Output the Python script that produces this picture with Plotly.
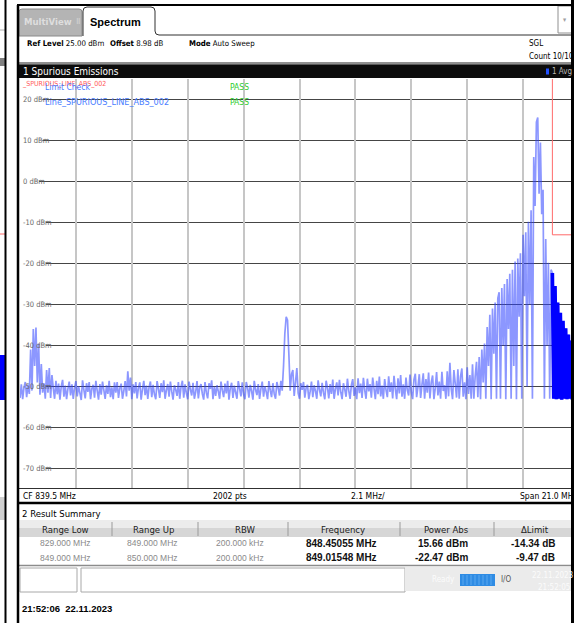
import numpy as np
import plotly.graph_objects as go

# sweep settings shown on the analyzer
center_mhz = 839.5
span_mhz = 21.0
ref_level = 25.0
db_per_div = 10.0

# trace 1 (Avg) in dBm: one list per MHz, 0.05 MHz per point
lvl_829 = [-52.8, -49.5, -53.1, -50.2, -48.9, -52.6, -49.6, -51.8, -41.0, -51.0, -36.0, -45.0, -35.6, -49.0, -39.5, -52.0, -44.5, -51.5, -49.2, -53.0]
lvl_830 = [-46.0, -51.5, -45.5, -52.8, -47.2, -50.4, -53.0, -48.6, -51.9, -49.3, -53.2, -50.0, -48.4, -52.5, -49.8, -53.1, -50.6, -48.8, -52.2, -49.5]
lvl_831 = [-53.0, -50.3, -48.7, -52.4, -49.9, -51.6, -53.3, -48.5, -50.8, -52.9, -49.2, -51.3, -48.9, -53.1, -50.5, -49.6, -52.7, -48.6, -51.0, -53.2]
lvl_832 = [-49.4, -52.0, -48.8, -50.9, -53.0, -49.7, -51.8, -48.6, -52.6, -50.2, -53.1, -49.0, -51.5, -48.9, -52.8, -50.4, -49.3, -53.0, -51.1, -48.7]
lvl_833 = [-52.4, -46.3, -51.0, -47.8, -53.1, -49.5, -51.7, -48.9, -52.9, -50.3, -49.0, -53.2, -50.7, -48.6, -52.1, -49.8, -53.0, -50.1, -48.8, -52.6]
lvl_834 = [-49.6, -51.9, -53.1, -48.7, -50.6, -52.8, -49.2, -51.4, -48.5, -53.0, -50.9, -49.4, -52.5, -48.8, -51.2, -53.2, -49.7, -50.8, -52.3, -48.9]
lvl_835 = [-53.0, -50.1, -48.6, -52.7, -49.5, -51.6, -53.1, -48.8, -50.7, -52.2, -49.1, -53.0, -51.3, -48.7, -52.9, -50.2, -49.4, -51.8, -53.2, -48.9]
lvl_836 = [-51.5, -52.9, -49.2, -50.6, -48.5, -53.1, -50.0, -52.3, -49.7, -51.2, -53.0, -48.8, -50.9, -52.6, -49.3, -51.7, -48.6, -53.2, -50.4, -49.1]
lvl_837 = [-52.8, -49.8, -51.4, -53.0, -48.7, -50.5, -52.4, -49.0, -51.9, -53.1, -48.9, -50.3, -52.7, -49.6, -51.1, -53.2, -48.6, -50.8, -52.1, -49.4]
lvl_838 = [-53.0, -50.6, -48.8, -52.5, -49.9, -51.3, -53.1, -48.7, -50.9, -52.6, -49.2, -51.8, -53.0, -48.9, -50.4, -52.2, -48.6, -51.0, -45.0, -37.0]
lvl_839 = [-33.0, -33.8, -42.0, -51.0, -47.0, -46.0, -52.3, -49.0, -45.5, -51.6, -53.0, -49.2, -50.8, -48.9, -52.7, -50.3, -49.6, -53.1, -51.2, -48.8]
lvl_840 = [-52.6, -49.7, -51.1, -53.0, -48.5, -50.8, -52.4, -49.1, -51.5, -53.1, -48.6, -50.3, -52.9, -49.4, -51.8, -48.3, -53.0, -50.6, -49.0, -52.2]
lvl_841 = [-48.4, -51.4, -53.1, -49.2, -50.7, -52.5, -48.1, -51.0, -53.0, -49.6, -48.2, -52.3, -50.2, -53.1, -48.0, -51.6, -49.3, -52.8, -47.9, -50.9]
lvl_842 = [-53.0, -48.1, -51.2, -49.4, -52.7, -47.8, -50.5, -53.1, -48.6, -51.9, -47.6, -52.4, -49.8, -53.0, -48.2, -50.8, -52.6, -47.5, -51.3, -49.0]
lvl_843 = [-52.9, -47.4, -50.6, -53.1, -48.0, -51.7, -47.2, -52.5, -49.5, -53.0, -47.8, -50.9, -52.2, -47.1, -51.4, -53.1, -48.3, -46.9, -52.6, -50.1]
lvl_844 = [-47.0, -52.8, -49.6, -46.8, -53.0, -48.2, -51.5, -46.6, -52.9, -49.0, -47.3, -53.1, -50.4, -46.5, -52.2, -48.8, -53.0, -46.4, -51.1, -49.7]
lvl_845 = [-53.0, -46.3, -52.4, -44.2, -50.6, -53.1, -46.0, -49.2, -52.7, -45.8, -53.0, -47.5, -45.6, -52.5, -49.0, -53.1, -45.3, -51.8, -47.2, -53.0]
lvl_846 = [-44.6, -53.0, -47.5, -44.0, -52.6, -42.8, -53.1, -41.0, -49.0, -39.5, -53.0, -35.5, -45.0, -32.5, -53.1, -31.0, -42.0, -29.5, -53.0, -28.5]
lvl_847 = [-27.0, -53.0, -26.0, -40.0, -25.0, -53.1, -23.8, -36.0, -22.5, -53.0, -21.5, -45.0, -19.5, -53.1, -18.8, -33.0, -17.5, -53.0, -13.0, -28.0]
lvl_848 = [-12.4, -50.0, -9.8, -30.0, -7.0, -53.0, 6.0, -6.0, 14.5, 15.6, -3.0, 9.5, -8.0, -2.0, -53.0, -14.0, -40.0, -19.8, -53.0, -21.5]
lvl_849 = [-22.3, -53.0, -25.5, -53.1, -29.5, -53.0, -32.0, -53.2, -34.0, -53.0, -35.8, -53.1, -37.3, -53.0, -38.8, -53.2, -40.2, -53.0, -41.5, -53.1, -42.8]

level_dbm = (lvl_829 + lvl_830 + lvl_831 + lvl_832 + lvl_833 + lvl_834 + lvl_835 + lvl_836 + lvl_837
             + lvl_838 + lvl_839 + lvl_840 + lvl_841 + lvl_842 + lvl_843 + lvl_844 + lvl_845 + lvl_846
             + lvl_847 + lvl_848 + lvl_849)
start_mhz = center_mhz - span_mhz / 2
stop_mhz = center_mhz + span_mhz / 2
freq_mhz = np.linspace(start_mhz, stop_mhz, len(level_dbm))
n_tail = len(lvl_849)  # above 849 MHz the trace is so dense it draws solid

# limit line _SPURIOUS_LINE_ABS_002
limit_freq = [829.0, 849.0, 849.0, 850.0]
limit_dbm = [30.0, 30.0, -13.0, -13.0]

y_ticks = [20, 10, 0, -10, -20, -30, -40, -50, -60, -70]

# result summary table
col_heads = ["Range Low", "Range Up", "RBW", "Frequency", "Power Abs", "ΔLimit"]
range_low = ["829.000 MHz", "849.000 MHz"]
range_up = ["849.000 MHz", "850.000 MHz"]
rbw = ["200.000 kHz", "200.000 kHz"]
peak_freq = ["848.45055 MHz", "849.01548 MHz"]
power_abs = ["15.66 dBm", "-22.47 dBm"]
delta_limit = ["-14.34 dB", "-9.47 dB"]

W, H = 574, 623
L, R, T, B = 20, 3, 79, 134
div_px = 55.9  # width of one x division on screen
x_right = start_mhz + (W - L - R) / div_px * (span_mhz / 10)

NARROW = "Liberation Sans Narrow, DejaVu Sans Condensed, Arial Narrow, sans-serif"
SANS = "Liberation Sans, Arial, sans-serif"


def px(x):
    return (x - L) / (W - L - R)


def py(y):
    return 1 - (y - T) / (H - T - B)


shapes = []
annotations = []


def rect(x0, y0, x1, y1, fill, line="rgba(0,0,0,0)", lw=1):
    shapes.append(dict(type="rect", xref="paper", yref="paper", x0=px(x0), x1=px(x1), y0=py(y0), y1=py(y1),
                       fillcolor=fill, line=dict(color=line, width=lw), layer="above"))


def hline(x0, x1, y, color, lw=1):
    shapes.append(dict(type="line", xref="paper", yref="paper", x0=px(x0), x1=px(x1), y0=py(y), y1=py(y),
                       line=dict(color=color, width=lw), layer="above"))


def vline(x, y0, y1, color, lw=1):
    shapes.append(dict(type="line", xref="paper", yref="paper", x0=px(x), x1=px(x), y0=py(y0), y1=py(y1),
                       line=dict(color=color, width=lw), layer="above"))


def text(x, y, s, size=9, color="black", anchor="left", family=NARROW):
    annotations.append(dict(x=px(x), y=py(y), xref="paper", yref="paper", text=s, showarrow=False,
                            xanchor=anchor, yanchor="middle", font=dict(family=family, size=size, color=color)))


fig = go.Figure()

fig.add_trace(go.Scatter(x=freq_mhz, y=level_dbm, mode="lines",
                         line=dict(color="rgba(45,65,255,0.55)", width=1.7, simplify=False), hoverinfo="skip"))
fig.add_trace(go.Scatter(x=freq_mhz[-n_tail:], y=level_dbm[-n_tail:], mode="lines",
                         line=dict(color="#0000ff", width=3.6, simplify=False), hoverinfo="skip"))
fig.add_trace(go.Scatter(x=limit_freq, y=limit_dbm, mode="lines",
                         line=dict(color="#ff6a6a", width=1), hoverinfo="skip"))

# horizontal grid lines start after the level labels
for v in y_ticks:
    lab = f"{v} dBm"
    x0 = 21 + len(lab) * 3.4 + 1
    shapes.append(dict(type="line", xref="paper", yref="y", x0=px(x0), x1=1, y0=v, y1=v,
                       line=dict(color="#454545", width=1), layer="between"))
    text(21, T + (ref_level - v) / db_per_div * 41, lab, size=7.5, color="#666666")

# legend texts inside diagram
text(20, 84, "_SPURIOUS_LINE_ABS_002", size=7, color="#ff5a5a")
text(43, 87, "Limit Check", size=8.5, color="#4a7dff")
text(43, 102, "Line_SPURIOUS_LINE_ABS_002", size=9, color="#4a7dff")
text(228, 87, "PASS", size=8.5, color="#2ecc2e")
text(228, 102, "PASS", size=8.5, color="#2ecc2e")

# ---- window chrome ----
# background window strip on the left
hline(0, 5, 30, "#b0b0b0")
rect(0, 58, 5, 66, "#808080")
hline(0, 5, 234, "#ff6a6a")
rect(0, 355, 5, 400, "#0000ff")
rect(0, 497, 5, 520, "#d0d0d0")
vline(5.5, 0, 623, "black", 2)

# tabs
shapes.append(dict(type="path", xref="paper", yref="paper", layer="above",
                   path=f"M {px(19)},{py(36)} L {px(19)},{py(12)} Q {px(19)},{py(9)} {px(22)},{py(9)} "
                        f"L {px(79)},{py(9)} Q {px(82)},{py(9)} {px(82)},{py(12)} L {px(82)},{py(36)} Z",
                   fillcolor="#b4b4b4", line=dict(color="#8a8a8a", width=1)))
text(22, 22, "<b>MultiView</b>", size=9.5, color="#dedede")
text(74, 22, "⠿", size=7, color="#e8e8e8")
shapes.append(dict(type="path", xref="paper", yref="paper", layer="above",
                   path=f"M {px(83)},{py(36)} L {px(83)},{py(11)} Q {px(83)},{py(7)} {px(87)},{py(7)} "
                        f"L {px(151)},{py(7)} Q {px(155)},{py(7)} {px(155)},{py(11)} L {px(155)},{py(31)} "
                        f"Q {px(155)},{py(35)} {px(159)},{py(35)} L {px(572)},{py(35)}",
                   fillcolor="rgba(0,0,0,0)", line=dict(color="#303030", width=1)))
text(88, 22, "<b>Spectrum</b>", size=11, color="black", family=SANS)
rect(558, 6, 572, 33, "white", "#909090")
text(565, 20, "▾", size=7, color="#a0a0a0", anchor="center")

# info row
text(25, 44, "<b>Ref Level</b> 25.00 dBm", size=7.8)
text(108, 44, "<b>Offset</b> 8.98 dB", size=7.8)
text(187, 44, "<b>Mode</b> Auto Sweep", size=7.8)
text(527, 44, "SGL", size=8)
text(527, 57, "Count 10/10", size=8)
hline(17, 572, 63, "#202020", 1)

# diagram title bar
rect(17, 64, 572, 78, "#0c0c0c")
hline(17, 572, 64.5, "#5a5a5a", 1)
text(21, 71.5, "1 Spurious Emissions", size=10, color="white")
rect(546, 68.5, 549, 74.5, "#2050ff")
text(550, 71.5, "1 Avg", size=8, color="#b8b8b8")

# bottom bar of diagram
hline(17, 572, 488.5, "#303030", 1)
text(21, 495.5, "CF 839.5 MHz", size=8.5)
text(230, 495.5, "2002 pts", size=8.5, anchor="center")
text(368, 495.5, "2.1 MHz/", size=8.5, anchor="center")
text(518, 495.5, "Span 21.0 MHz", size=8.5)
hline(17, 572, 503, "black", 2.5)

# result summary
text(20, 513, "2 Result Summary", size=9.5)
rect(19, 520, 571, 537, "#d6d6d6")
rect(19, 520, 571, 528, "#ececec")
for sx in [112, 198, 288, 400, 494]:
    vline(sx, 522, 536, "#9a9a9a", 1)
head_x = [65, 153, 245, 343, 446, 535]
for cx, h in zip(head_x, col_heads):
    text(cx, 529, h, size=9.5, color="#222222", anchor="center")
row_y = [543, 557.5]
for i, ry in enumerate(row_y):
    text(65, ry, range_low[i], size=8.5, color="#8a8a8a", anchor="center", family=SANS)
    text(152, ry, range_up[i], size=8.5, color="#8a8a8a", anchor="center", family=SANS)
    text(240, ry, rbw[i], size=8.5, color="#8a8a8a", anchor="center", family=SANS)
    text(341, ry, "<b>" + peak_freq[i] + "</b>", size=10, color="#111111", anchor="center", family=SANS)
    text(470, ry, "<b>" + power_abs[i] + "</b>", size=10, color="#111111", anchor="right", family=SANS)
    text(557, ry, "<b>" + delta_limit[i] + "</b>", size=10, color="#111111", anchor="right", family=SANS)
hline(17, 572, 565.5, "#8c8c8c", 1.5)

# status bar
shapes.append(dict(type="rect", xref="paper", yref="paper", x0=px(20), x1=px(77), y0=py(568), y1=py(592),
                   fillcolor="white", line=dict(color="#a8a8a8", width=1), layer="above"))
shapes.append(dict(type="rect", xref="paper", yref="paper", x0=px(81), x1=px(405), y0=py(568), y1=py(592),
                   fillcolor="white", line=dict(color="#a8a8a8", width=1), layer="above"))
rect(405, 567, 571, 591, "#ebebeb")
text(430, 579, "Ready", size=8, color="#fbfbfb")
rect(460, 574, 495, 586, "#2f8ce4")
for bx in range(463, 495, 4):
    vline(bx, 575, 585, "#5aa8f0", 1)
text(499, 579, "I/O", size=8, color="#555555")
text(530, 575, "22.11.2023", size=8, color="#fbfbfb")
text(536, 587, "21:52:05", size=8, color="#fbfbfb")

# footer timestamp
text(20, 608, "<b>21:52:06  22.11.2023</b>", size=9.5, family=SANS)

# window frame
hline(17, 574, 5, "black", 2)
vline(18, 5, 623, "black", 2.5)
rect(571, 0, 574, 623, "black")

fig.update_layout(
    width=W, height=H,
    margin=dict(l=L, r=R, t=T, b=B),
    paper_bgcolor="white", plot_bgcolor="white",
    showlegend=False,
    xaxis=dict(range=[start_mhz, x_right], tick0=start_mhz, dtick=span_mhz / 10, showgrid=True,
               gridcolor="#c6c6c6", gridwidth=2, showticklabels=False, zeroline=False, showline=False),
    yaxis=dict(range=[ref_level - 10 * db_per_div, ref_level], showgrid=False, showticklabels=False,
               zeroline=False, showline=False),
    shapes=shapes,
    annotations=annotations,
)

# page body has a default 8px margin; drop it so the figure sits at the window corner
fig.write_html("out.html", config={"displayModeBar": False},
               post_script="document.body.style.margin='0px';")
